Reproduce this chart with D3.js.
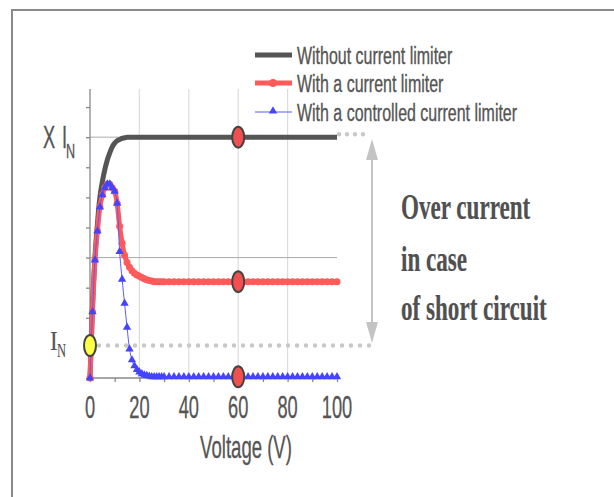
<!DOCTYPE html>
<html>
<head>
<meta charset="utf-8">
<script src="https://cdn.jsdelivr.net/npm/d3@7"></script>
<style>
  html, body { margin: 0; padding: 0; background: #fff; }
  svg { display: block; }
</style>
</head>
<body>
<svg id="chart" width="614" height="497"></svg>
<script>
const width = 614, height = 497;

// voltage samples (V)
const voltage = [0,1,2,3,4,5,6,7,8,9,10,11,12,13,14,15,16,17,18,19,20,21,22,23,24,25,26,27,28,29,30,
  32,34,36,38,40,42,44,46,48,50,52,54,56,58,60,62,64,66,68,70,72,74,76,78,80,82,84,86,88,90,92,94,96,98,100];

// current (multiples of the scale)
const withoutLimiter = [0,0.6,1.0,1.28,1.5,1.63,1.73,1.81,1.87,1.92,1.95,1.97,1.98,1.99,1.995,2,2,2,2,2,2,2,2,2,2,2,2,2,2,2,2,
  2,2,2,2,2,2,2,2,2,2,2,2,2,2,2,2,2,2,2,2,2,2,2,2,2,2,2,2,2,2,2,2,2,2,2];
const withLimiter = [0,0.55,0.98,1.22,1.42,1.52,1.58,1.61,1.61,1.58,1.55,1.45,1.26,1.12,1.02,0.96,0.92,0.89,0.87,0.855,0.845,0.835,0.825,0.815,0.81,0.805,0.8,0.8,0.8,0.8,0.8,
  0.8,0.8,0.8,0.8,0.8,0.8,0.8,0.8,0.8,0.8,0.8,0.8,0.8,0.8,0.8,0.8,0.8,0.8,0.8,0.8,0.8,0.8,0.8,0.8,0.8,0.8,0.8,0.8,0.8,0.8,0.8,0.8,0.8,0.8,0.8];
const withControlled = [0,0.55,0.98,1.22,1.42,1.52,1.58,1.61,1.61,1.58,1.55,1.45,1.05,0.82,0.62,0.42,0.24,0.15,0.1,0.07,0.05,0.035,0.025,0.02,0.015,0.01,0.01,0.01,0.01,0.01,0.01,
  0.01,0.01,0.01,0.01,0.01,0.01,0.01,0.01,0.01,0.01,0.01,0.01,0.01,0.01,0.01,0.01,0.01,0.01,0.01,0.01,0.01,0.01,0.01,0.01,0.01,0.01,0.01,0.01,0.01,0.01,0.01,0.01,0.01,0.01,0.01];

const seriesNames = ["Without current limiter", "With a current limiter", "With a controlled current limiter"];
const xTicks = [0, 20, 40, 60, 80, 100];
const markVoltage = 60;      // big operating-point markers
const nominalCurrent = 0.27; // I_N level
const overLabel = ["Over current", "in case", "of short circuit"];

const svg = d3.select("#chart");

// frame
svg.append("path").attr("d", "M12,497V10H614")
  .attr("fill", "none").attr("stroke", "#8a8a8a").attr("stroke-width", 2);

const x = d3.scaleLinear().domain([0, 100]).range([90, 337]);
const y = d3.scaleLinear().domain([0, 2.4]).range([378, 89]);

const sans = "'Liberation Sans', Arial, sans-serif";
const serif = "'Liberation Serif', 'Times New Roman', serif";

function label(txt, px, py, o) {
  return svg.append("text")
    .attr("transform", `translate(${px},${py}) scale(${o.sx || 1},1)`)
    .attr("text-anchor", o.anchor || "start")
    .attr("font-family", o.family || sans)
    .attr("font-weight", o.weight || "normal")
    .attr("font-size", o.size)
    .attr("fill", o.color || "#555")
    .attr("stroke", o.color || "#555")
    .attr("stroke-width", o.sw || 0.35)
    .text(txt);
}

// grid
svg.append("g").selectAll("line").data(xTicks.slice(1, -1)).join("line")
  .attr("x1", d => x(d)).attr("x2", d => x(d))
  .attr("y1", y(2.4)).attr("y2", y(0))
  .attr("stroke", "#dcdcdc").attr("stroke-width", 1.2);
svg.append("g").selectAll("line").data([1, 2]).join("line")
  .attr("x1", x(0)).attr("x2", x(100))
  .attr("y1", d => y(d)).attr("y2", d => y(d))
  .attr("stroke", "#aaa").attr("stroke-width", 1);

// axes
const yAxis = d3.axisLeft(y).tickValues(d3.range(0, 2.41, 0.25)).tickSize(4).tickFormat("");
svg.append("g").attr("transform", `translate(${x(0)},0)`).call(yAxis)
  .call(g => g.selectAll("line,path").attr("stroke", "#888").attr("stroke-width", 1.3))
  .call(g => g.select(".domain").attr("d", `M0,${y(2.4)}V${y(0)}`));
const xAxis = d3.axisBottom(x).tickValues(d3.range(0, 101, 10)).tickSize(4).tickFormat("");
svg.append("g").attr("transform", `translate(0,${y(0)})`).call(xAxis)
  .call(g => g.selectAll("line,path").attr("stroke", "#888").attr("stroke-width", 1.3))
  .call(g => g.select(".domain").attr("d", `M${x(0)},0H${x(100)}`));

xTicks.forEach(t => label(t, x(t), 418, { size: 32, sx: 0.57, anchor: "middle" }));
label("Voltage (V)", 246, 458, { size: 32, sx: 0.58, anchor: "middle" });

// y labels
label("X", 43, 148, { size: 32, sx: 0.57 });
label("I", 62, 148, { size: 32, sx: 0.57 });
label("N", 66, 158, { size: 21, sx: 0.6 });
label("I", 50, 350, { size: 27, sx: 0.85, family: serif, sw: 0.2 });
label("N", 57, 357, { size: 18, sx: 0.7, family: serif, sw: 0.2 });

// reference dotted lines
svg.append("line").attr("x1", x(0) + 9).attr("x2", 372)
  .attr("y1", y(nominalCurrent)).attr("y2", y(nominalCurrent))
  .attr("stroke", "#c8c8c8").attr("stroke-width", 4.5)
  .attr("stroke-linecap", "round").attr("stroke-dasharray", "0 9");
svg.append("line").attr("x1", x(100) + 2).attr("x2", 366)
  .attr("y1", y(2) - 3).attr("y2", y(2) - 3)
  .attr("stroke", "#c8c8c8").attr("stroke-width", 4.5)
  .attr("stroke-linecap", "round").attr("stroke-dasharray", "0 8");

// double arrow
const ax = 372, aTop = 139, aBot = 343;
svg.append("line").attr("x1", ax).attr("x2", ax).attr("y1", aTop + 10).attr("y2", aBot - 10)
  .attr("stroke", "#c4c4c4").attr("stroke-width", 2);
svg.append("path").attr("d", `M${ax},${aTop}L${ax - 6},${aTop + 21}L${ax + 6},${aTop + 21}Z`).attr("fill", "#c4c4c4");
svg.append("path").attr("d", `M${ax},${aBot}L${ax - 6},${aBot - 21}L${ax + 6},${aBot - 21}Z`).attr("fill", "#c4c4c4");

// series
const line = vals => d3.line().x((d, i) => x(voltage[i])).y(d => y(d)).curve(d3.curveMonotoneX)(vals);

svg.append("path").attr("d", line(withoutLimiter))
  .attr("fill", "none").attr("stroke", "#555").attr("stroke-width", 5);

svg.append("path").attr("d", line(withLimiter))
  .attr("fill", "none").attr("stroke", "#ff5a5a").attr("stroke-width", 5);
svg.append("g").selectAll("circle").data(withLimiter).join("circle")
  .attr("cx", (d, i) => x(voltage[i])).attr("cy", d => y(d)).attr("r", 3.5)
  .attr("fill", "#ff5a5a");

svg.append("path").attr("d", line(withControlled))
  .attr("fill", "none").attr("stroke", "#5a5aff").attr("stroke-width", 1);
const tri = d3.symbol().type(d3.symbolTriangle).size(30);
svg.append("g").selectAll("path").data(withControlled).join("path")
  .attr("transform", (d, i) => `translate(${x(voltage[i])},${y(d)})`)
  .attr("d", tri).attr("fill", "#4444ff");

// operating-point markers
const mi = voltage.indexOf(markVoltage);
svg.append("g").selectAll("ellipse")
  .data([withoutLimiter[mi], withLimiter[mi], withControlled[mi]]).join("ellipse")
  .attr("cx", x(markVoltage)).attr("cy", d => y(d)).attr("rx", 6).attr("ry", 10.5)
  .attr("fill", "#f05050").attr("stroke", "#444").attr("stroke-width", 2);
svg.append("ellipse").attr("cx", x(0)).attr("cy", y(nominalCurrent)).attr("rx", 6).attr("ry", 10.5)
  .attr("fill", "#ffff44").attr("stroke", "#444").attr("stroke-width", 2);

// legend
const legY = [55, 83, 112];
const lg = svg.append("g");
lg.append("line").attr("x1", 255).attr("x2", 292).attr("y1", legY[0]).attr("y2", legY[0])
  .attr("stroke", "#555").attr("stroke-width", 5);
lg.append("line").attr("x1", 255).attr("x2", 292).attr("y1", legY[1]).attr("y2", legY[1])
  .attr("stroke", "#ff5a5a").attr("stroke-width", 5);
lg.append("circle").attr("cx", 273).attr("cy", legY[1]).attr("r", 4).attr("fill", "#ff5a5a");
lg.append("line").attr("x1", 255).attr("x2", 292).attr("y1", legY[2]).attr("y2", legY[2])
  .attr("stroke", "#5a5aff").attr("stroke-width", 1);
lg.append("path").attr("transform", `translate(273,${legY[2] - 1})`).attr("d", tri).attr("fill", "#4444ff");
seriesNames.forEach((s, i) => label(s, 297, legY[i] + 8.5, { size: 23.5, sx: 0.68 }));

// annotation
const annY = [219, 271, 320];
overLabel.forEach((s, i) => label(s, 401, annY[i], { size: 35, sx: 0.66, family: serif, weight: "bold", color: "#505050", sw: 0.2 }));
</script>
</body>
</html>
